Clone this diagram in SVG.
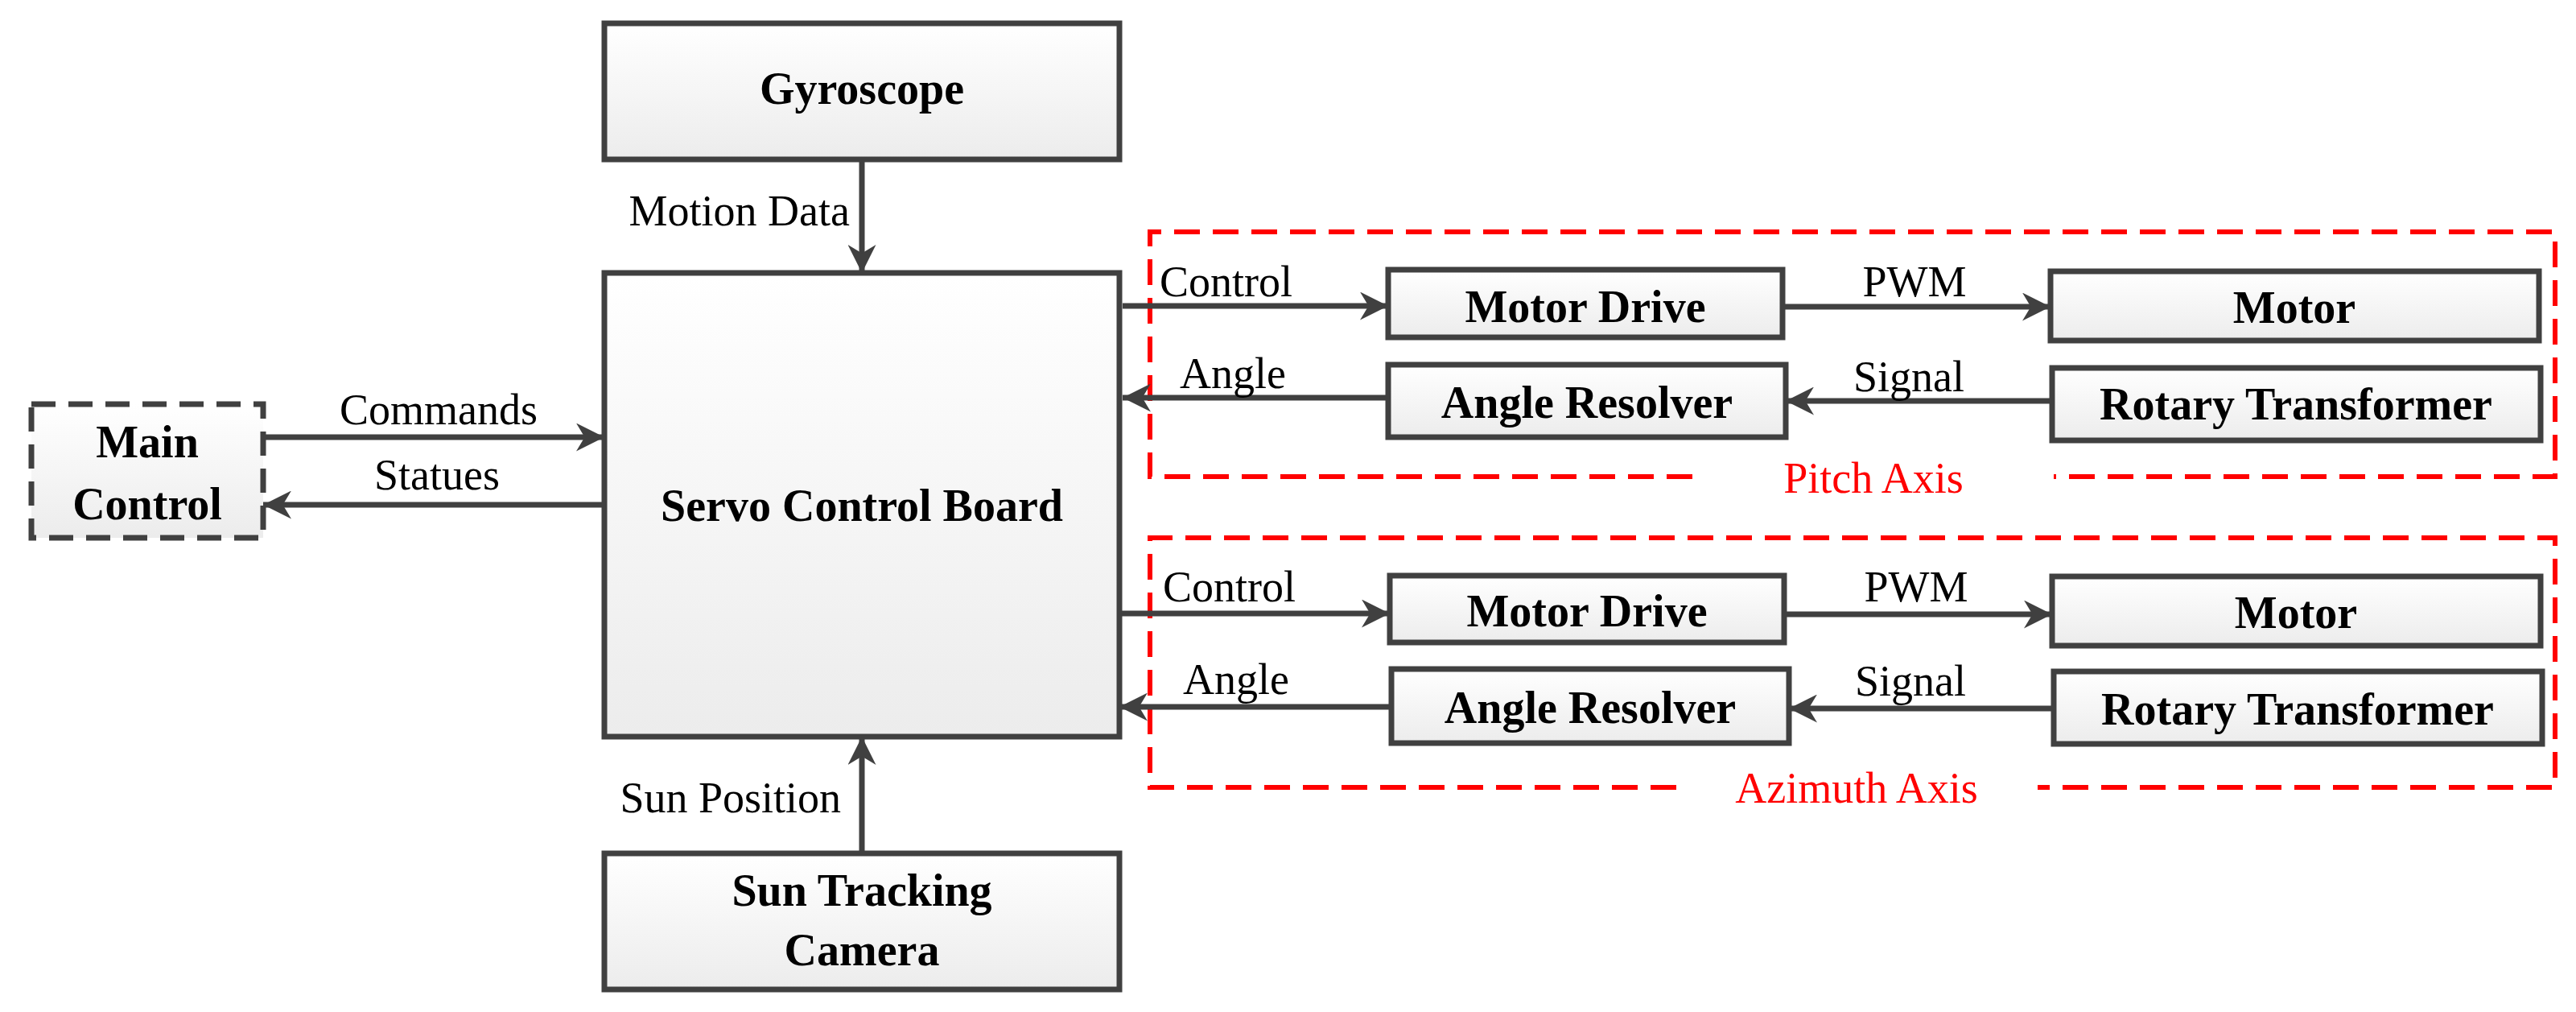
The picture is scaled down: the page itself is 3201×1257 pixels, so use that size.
<svg xmlns="http://www.w3.org/2000/svg" width="3201" height="1257" viewBox="0 0 3201 1257">
<defs>
<linearGradient id="g" x1="0" y1="0" x2="0" y2="1"><stop offset="0" stop-color="#ffffff"/><stop offset="1" stop-color="#ececec"/></linearGradient>
<marker id="a" viewBox="0 0 10 10" refX="10" refY="5" markerWidth="5" markerHeight="5" markerUnits="strokeWidth" orient="auto"><path d="M0,0 L10,5 L0,10 L3,5 Z" fill="#404040"/></marker>
<style>
.box{fill:url(#g);stroke:#404040;stroke-width:7}
.b{font-family:"Liberation Serif",serif;font-weight:bold;font-size:56px;text-anchor:middle;fill:#000}
.l{font-family:"Liberation Serif",serif;font-size:54px;fill:#000}
.c{stroke:#404040;stroke-width:7;fill:none;marker-end:url(#a)}
.r{stroke:#ff0000;stroke-width:6;fill:none;stroke-dasharray:32 16}
.rt{font-family:"Liberation Serif",serif;font-size:54px;fill:#ff0000;text-anchor:middle}
</style>
</defs>
<g id="pitch-axis">
<path class="r" d="M2103,592 L1429,592 L1429,288 L3175,288 L3175,592 L2552,592"/>
<text class="rt" x="2328" y="612">Pitch  Axis</text>
</g>
<g id="azimuth-axis">
<path class="r" d="M2083,978 L1429,978 L1429,668 L3175,668 L3175,978 L2532,978"/>
<text class="rt" x="2307" y="997">Azimuth Axis</text>
</g>
<g id="gyroscope"><rect class="box" x="751" y="29" width="640" height="169"/><text class="b" x="1071" y="129">Gyroscope</text></g>
<g id="servo"><rect class="box" x="751" y="339" width="640" height="576"/><text class="b" x="1071" y="647">Servo Control Board</text></g>
<g id="main-control"><rect class="box" x="39" y="502" width="288" height="166" style="stroke-dasharray:30 16"/><text class="b" x="183" y="568">Main</text><text class="b" x="183" y="645">Control</text></g>
<g id="sun-camera"><rect class="box" x="751" y="1060" width="640" height="169"/><text class="b" x="1071" y="1125">Sun Tracking</text><text class="b" x="1071" y="1199">Camera</text></g>
<g id="p-motor-drive"><rect class="box" x="1725" y="335" width="490" height="84"/><text class="b" x="1970" y="400">Motor Drive</text></g>
<g id="p-motor"><rect class="box" x="2548" y="337" width="607" height="86"/><text class="b" x="2851" y="401">Motor</text></g>
<g id="p-angle-resolver"><rect class="box" x="1725" y="453" width="494" height="90"/><text class="b" x="1972" y="519">Angle Resolver</text></g>
<g id="p-rotary"><rect class="box" x="2550" y="457" width="607" height="90"/><text class="b" x="2853" y="521">Rotary Transformer</text></g>
<g id="a-motor-drive"><rect class="box" x="1727" y="715" width="490" height="83"/><text class="b" x="1972" y="778">Motor Drive</text></g>
<g id="a-motor"><rect class="box" x="2550" y="716" width="607" height="86"/><text class="b" x="2853" y="780">Motor</text></g>
<g id="a-angle-resolver"><rect class="box" x="1729" y="831" width="494" height="92"/><text class="b" x="1976" y="898">Angle Resolver</text></g>
<g id="a-rotary"><rect class="box" x="2552" y="834" width="607" height="90"/><text class="b" x="2855" y="900">Rotary Transformer</text></g>
<g id="connectors">
<path class="c" d="M1071,198 L1071,339"/>
<path class="c" d="M1071,1060 L1071,915"/>
<path class="c" d="M327,543 L751,543"/>
<path class="c" d="M751,627 L327,627"/>
<path class="c" d="M1395,380 L1725,380"/>
<path class="c" d="M2215,381 L2548,381"/>
<path class="c" d="M1725,494 L1395,494"/>
<path class="c" d="M2550,498 L2219,498"/>
<path class="c" d="M1391,762 L1727,762"/>
<path class="c" d="M2217,763 L2550,763"/>
<path class="c" d="M1729,878 L1391,878"/>
<path class="c" d="M2552,880 L2223,880"/>
<text class="l" x="1056" y="280" text-anchor="end">Motion Data</text>
<text class="l" x="1045" y="1009" text-anchor="end">Sun Position</text>
<text class="l" x="545" y="527" text-anchor="middle">Commands</text>
<text class="l" x="543" y="608" text-anchor="middle">Statues</text>
<text class="l" x="1441" y="368">Control</text>
<text class="l" x="1466" y="482">Angle</text>
<text class="l" x="2379" y="368" text-anchor="middle">PWM</text>
<text class="l" x="2372" y="486" text-anchor="middle">Signal</text>
<text class="l" x="1445" y="747">Control</text>
<text class="l" x="1470" y="862">Angle</text>
<text class="l" x="2381" y="747" text-anchor="middle">PWM</text>
<text class="l" x="2374" y="864" text-anchor="middle">Signal</text>
</g>
</svg>
